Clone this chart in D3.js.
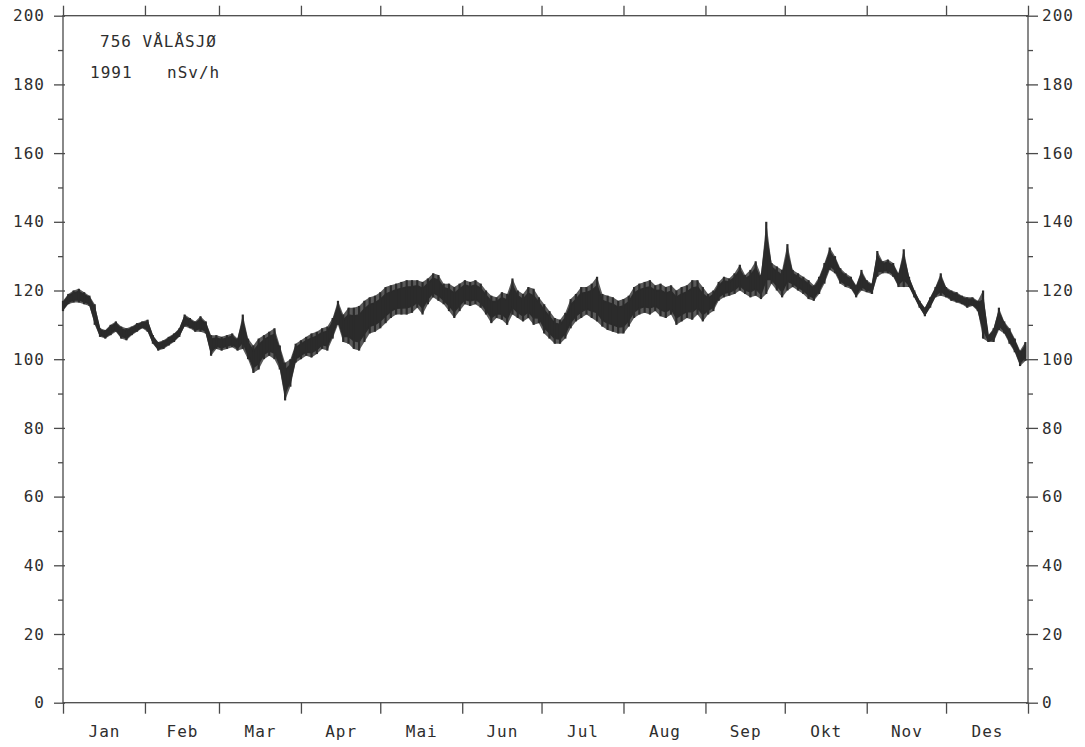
<!DOCTYPE html>
<html>
<head>
<meta charset="utf-8">
<script src="https://cdn.jsdelivr.net/npm/d3@7"></script>
<style>
  html, body { margin: 0; padding: 0; background: #fff; }
  svg { display: block; }
  text { font-family: "DejaVu Sans Mono", monospace; fill: #2e2e2e; }
</style>
</head>
<body>
<svg id="chart" width="1085" height="747"></svg>
<script>
// Station 756 Vålåsjø, 1991: dose rate in nSv/h, sampled every second day
// as the low and high edge of the recorded trace.
const startDate = new Date(1991, 0, 1);
const endDate = new Date(1992, 0, 1);
const stepDays = 2;

const low = [
  114, 116, 116.5, 116.5, 116, 115.5, 110, 106.5, 106, 107,
  108, 106, 105.5, 107, 108, 109, 108, 104.5, 102.5, 103,
  104, 105, 106.5, 109.5, 109, 108, 108, 107.5, 101, 103,
  102.5, 103, 103.5, 102.5, 103, 100, 96, 97, 100, 101,
  100, 97, 88, 92, 99, 100, 101, 100.5, 101.5, 103,
  102.5, 106, 110, 105, 104.5, 103, 102.5, 105, 107.5, 108,
  109, 110.5, 112, 113, 113, 113, 113.5, 115, 113, 116,
  118, 117, 116, 114, 112, 114, 116, 115.5, 116, 115,
  113, 110.5, 112, 111.5, 110, 113, 112, 111, 112, 110,
  110.5, 107.5, 106, 104.5, 104.5, 106, 109, 111, 112, 113,
  112, 111, 109.5, 108.5, 108, 107.5, 107.5, 109.5, 112, 113,
  113.5, 113, 114, 112.5, 112, 113, 110, 111, 112, 111.5,
  113, 111, 113, 114, 117, 118, 118.5, 119, 120, 119,
  118, 118.5, 117.5, 119, 122, 120, 118, 120, 121, 120,
  119, 117.5, 117, 119, 122, 126, 125, 122, 121, 120.5,
  118, 120, 119.5, 119, 124, 125, 125, 124, 121, 121,
  121, 118, 115, 112.5, 115, 118, 118.5, 118, 117, 116.5,
  116, 115, 115.5, 114, 106, 105, 105, 108.5, 107.5, 104.5,
  102, 98, 99.5
];

const high = [
  117, 119, 120, 120.5, 119.5, 118.5, 116, 109, 108.5, 110,
  111, 109.5, 109, 109.5, 110.5, 111, 111.5, 107, 105, 105.5,
  106.5, 107.5, 109, 113, 112, 111, 112.5, 111, 107, 107,
  106.5, 107, 107.5, 106, 113, 106, 104, 106, 107, 108,
  109, 104, 99, 100, 104.5, 105.5, 106.5, 107.5, 108, 109,
  109.5, 112, 117, 113, 115, 115, 115.5, 117, 118, 118.5,
  119.5, 121, 121.5, 122, 122.5, 123, 123, 123, 122.5, 123.5,
  125, 124.5, 122, 122, 121, 122, 123, 122.5, 123, 122,
  120, 118.5, 118, 119.5, 119, 123.5, 120, 119, 121, 120.5,
  118, 116, 114, 112, 111.5, 113.5, 117.5, 119, 121, 121,
  122, 124, 119, 118.5, 118, 117, 117.5, 118.5, 121, 122,
  122.5, 123, 121.5, 122, 121, 121.5, 120, 121, 121.5, 123,
  123, 121, 119, 120, 122.5, 124, 123.5, 125, 127.5, 124.5,
  126, 128.5, 124.5, 140, 128, 127, 126, 133.5, 126, 125,
  124, 123, 121.5, 124, 128, 132.5, 130, 126.5, 125, 124,
  121.5, 126, 123, 122, 131.5, 128.5, 129, 128, 125, 132,
  124, 120, 117, 115, 118, 121, 125, 121, 120, 119.5,
  118.5, 118, 118, 117, 120, 107, 109, 115, 111, 109,
  106, 102.5, 105
];

const yMajorTicks = [0, 20, 40, 60, 80, 100, 120, 140, 160, 180, 200];
const yMinorTicks = [10, 30, 50, 70, 90, 110, 130, 150, 170, 190];
const monthNames = ["Jan", "Feb", "Mar", "Apr", "Mai", "Jun", "Jul", "Aug", "Sep", "Okt", "Nov", "Des"];
const titleLine1 = "756 VÅLÅSJØ";
const titleYear = "1991";
const titleUnit = "nSv/h";

const svg = d3.select("#chart");

const x = d3.scaleTime().domain([startDate, endDate]).range([63, 1028]);
const y = d3.scaleLinear().domain([0, 200]).range([702.7, 15.7]);

const axisColor = "#4a4a4a";
const inkColor = "#2b2b2b";

const monthStarts = d3.timeMonth.range(startDate, d3.timeDay.offset(endDate, 1));
const monthMids = monthNames.map((name, i) => {
  const a = monthStarts[i], b = monthStarts[i + 1];
  return new Date((a.getTime() + b.getTime()) / 2);
});

const series = low.map((lo, i) => ({
  date: d3.timeDay.offset(startDate, i * stepDays),
  lo: lo,
  hi: high[i]
}));

// frame
svg.append("rect")
  .attr("x", x.range()[0]).attr("y", y.range()[1])
  .attr("width", x.range()[1] - x.range()[0])
  .attr("height", y.range()[0] - y.range()[1])
  .attr("fill", "none").attr("stroke", axisColor).attr("stroke-width", 1.3);

function styleAxis(g) {
  g.select(".domain").remove();
  g.selectAll(".tick line").attr("stroke", axisColor).attr("stroke-width", 1.3);
  g.selectAll(".tick text")
    .attr("fill", "#2e2e2e")
    .style("font-family", "'DejaVu Sans Mono', monospace")
    .style("font-size", "16px")
    .style("letter-spacing", "1px");
}

// left axis: major ticks with labels, minor ticks without
svg.append("g").attr("transform", `translate(${x.range()[0] + 2},0)`)
  .call(d3.axisLeft(y).tickValues(yMajorTicks).tickSize(11).tickPadding(9).tickFormat(d3.format("d")))
  .call(styleAxis);
svg.append("g").attr("transform", `translate(${x.range()[0]},0)`)
  .call(d3.axisLeft(y).tickValues(yMinorTicks).tickSize(5).tickFormat(""))
  .call(styleAxis);

// right axis
svg.append("g").attr("transform", `translate(${x.range()[1] - 2},0)`)
  .call(d3.axisRight(y).tickValues(yMajorTicks).tickSize(12).tickPadding(4).tickFormat(d3.format("d")))
  .call(styleAxis);
svg.append("g").attr("transform", `translate(${x.range()[1]},0)`)
  .call(d3.axisRight(y).tickValues(yMinorTicks).tickSize(5).tickFormat(""))
  .call(styleAxis);

// top axis: month boundaries
svg.append("g").attr("transform", `translate(0,${y.range()[1]})`)
  .call(d3.axisTop(x).tickValues(monthStarts).tickSize(10).tickFormat(""))
  .call(styleAxis);

// bottom axis: month boundaries, names centred in each month
svg.append("g").attr("transform", `translate(0,${y.range()[0]})`)
  .call(d3.axisBottom(x).tickValues(monthStarts).tickSize(11).tickFormat(""))
  .call(styleAxis);
svg.append("g").attr("transform", `translate(0,${y.range()[0]})`)
  .call(d3.axisBottom(x).tickValues(monthMids).tickSize(0).tickPadding(23)
    .tickFormat((d, i) => monthNames[i]))
  .call(styleAxis);

// trace: the low–high envelope in a softer tone, a solid core inside it,
// and the full excursion drawn at every sample
const trace = svg.append("g").attr("stroke", inkColor);

const envelope = d3.area()
  .x(d => x(d.date))
  .y0(d => y(d.lo))
  .y1(d => y(d.hi));

const core = d3.area()
  .x(d => x(d.date))
  .y0(d => y(d.lo + 0.2 * (d.hi - d.lo)))
  .y1(d => y(d.hi - 0.2 * (d.hi - d.lo)));

trace.append("path")
  .datum(series)
  .attr("d", envelope)
  .attr("fill", "#5a5a5a")
  .attr("stroke", "none");

trace.append("path")
  .datum(series)
  .attr("d", core)
  .attr("fill", inkColor)
  .attr("stroke-width", 1.5)
  .attr("stroke-linejoin", "round");

trace.selectAll("line.excursion")
  .data(series)
  .join("line")
  .attr("class", "excursion")
  .attr("x1", d => x(d.date)).attr("x2", d => x(d.date))
  .attr("y1", d => y(d.lo)).attr("y2", d => y(d.hi))
  .attr("stroke-width", 2.2);

// station and unit text
const title = svg.append("g").style("font-size", "16px").style("letter-spacing", "1px");
title.append("text").attr("x", 100).attr("y", 47).text(titleLine1);
title.append("text").attr("x", 90).attr("y", 78).text(titleYear);
title.append("text").attr("x", 167).attr("y", 78).text(titleUnit);
</script>
</body>
</html>
